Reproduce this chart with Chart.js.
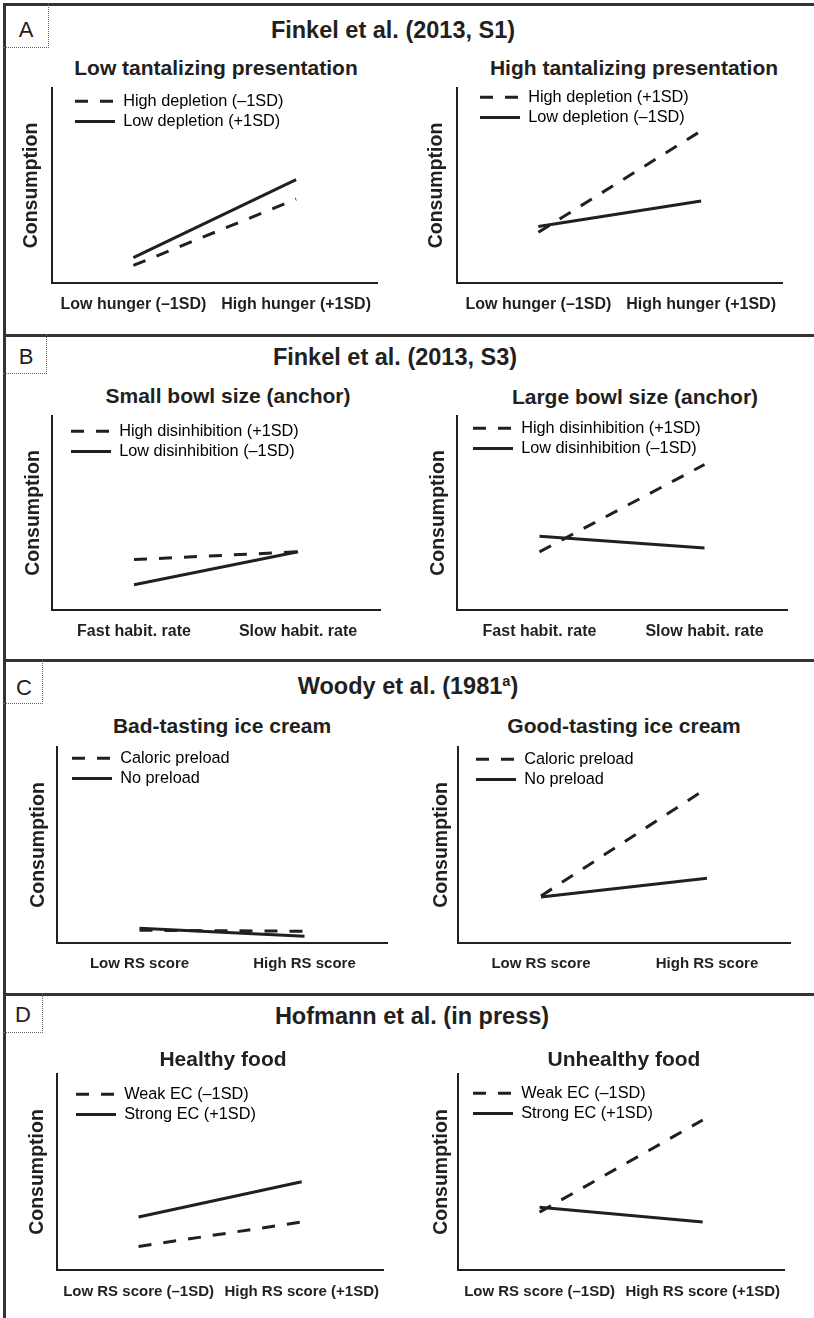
<!DOCTYPE html>
<html>
<head>
<meta charset="utf-8">
<script src="https://cdn.jsdelivr.net/npm/chart.js@4.4.1/dist/chart.umd.min.js"></script>
<style>
  body { margin: 0; background: #fff; }
  #fig { position: relative; width: 814px; height: 1318px; overflow: hidden;
         font-family: 'Liberation Sans', Arial, Helvetica, sans-serif; color: #231f20; }
  .rule { position: absolute; background: #333; }
  .tag { position: absolute; left: 3px; border-right: 1px dotted #666; border-bottom: 1px dotted #666; }
  .txt { position: absolute; transform: translate(-50%, -50%); white-space: nowrap; line-height: 1; }
  .panel { font-size: 23.5px; font-weight: bold; }
  .sub { font-size: 21px; font-weight: bold; }
  .letter { font-size: 22px; }
  .sup { font-size: 0.62em; position: relative; top: -0.55em; }
</style>
</head>
<body>
<div id="fig">
  <!-- frame -->
  <div class="rule" style="left:3px;top:3px;width:3px;height:1315px"></div>
  <div class="rule" style="left:3px;top:3px;width:811px;height:3px"></div>
  <div class="rule" style="left:3px;top:334px;width:811px;height:3px"></div>
  <div class="rule" style="left:3px;top:659px;width:811px;height:3px"></div>
  <div class="rule" style="left:3px;top:993px;width:811px;height:3px"></div>

  <div class="tag" style="top:3px;width:45px;height:44px"></div>
  <div class="tag" style="top:334px;width:43px;height:39px"></div>
  <div class="tag" style="top:659px;width:39px;height:44px"></div>
  <div class="tag" style="top:993px;width:39px;height:39px"></div>

  <div class="txt letter" style="left:26px;top:30px">A</div>
  <div class="txt letter" style="left:26px;top:357px">B</div>
  <div class="txt letter" style="left:24px;top:688px">C</div>
  <div class="txt letter" style="left:23px;top:1015px">D</div>

  <div class="txt panel" style="left:393px;top:31px">Finkel et al. (2013, S1)</div>
  <div class="txt panel" style="left:395px;top:358px">Finkel et al. (2013, S3)</div>
  <div class="txt panel" style="left:408px;top:687px">Woody et al. (1981<span class="sup">a</span>)</div>
  <div class="txt panel" style="left:412px;top:1017px">Hofmann et al. (in press)</div>
</div>

<script>
// categories
const hungerCats = ['Low hunger (–1SD)', 'High hunger (+1SD)'];
const habitCats = ['Fast habit. rate', 'Slow habit. rate'];
const rsCats = ['Low RS score', 'High RS score'];
const rsSdCats = ['Low RS score (–1SD)', 'High RS score (+1SD)'];

// legend names: [dashed, solid]
const depletionLow = ['High depletion (–1SD)', 'Low depletion (+1SD)'];
const depletionHigh = ['High depletion (+1SD)', 'Low depletion (–1SD)'];
const disinhibition = ['High disinhibition (+1SD)', 'Low disinhibition (–1SD)'];
const preload = ['Caloric preload', 'No preload'];
const ecNames = ['Weak EC (–1SD)', 'Strong EC (+1SD)'];

// consumption (no units on the original axis, read as 0-100 of axis height)
const lowTantDashed = [9, 43];
const lowTantSolid = [13, 53];
const highTantDashed = [26, 78];
const highTantSolid = [29, 42];
const smallBowlDashed = [26, 30];
const smallBowlSolid = [13, 30];
const largeBowlDashed = [30, 75];
const largeBowlSolid = [38, 32];
const badTasteDashed = [6.5, 6];
const badTasteSolid = [7.5, 3.5];
const goodTasteDashed = [24, 79];
const goodTasteSolid = [23.5, 33];
const healthyDashed = [12, 24.5];
const healthySolid = [27, 45];
const unhealthyDashed = [29.5, 76.5];
const unhealthySolid = [32, 24.5];

const ink = '#231f20';
Chart.defaults.font.family = "'Liberation Sans', Arial, Helvetica, sans-serif";
Chart.defaults.color = ink;

// box: axis left, right, top, bottom (page px)
const plots = [
  { cats: hungerCats, dashed: lowTantDashed, solid: lowTantSolid, names: depletionLow, title: 'Low tantalizing presentation',
    box: [52, 380, 88, 283], yLab: 31.5, leg: [75, 101], head: [216, 67], tick: 16, tickPad: 12 },
  { cats: hungerCats, dashed: highTantDashed, solid: highTantSolid, names: depletionHigh, title: 'High tantalizing presentation',
    box: [457, 785, 88, 283], yLab: 436.5, leg: [480, 97], head: [634, 67], tick: 16, tickPad: 12 },
  { cats: habitCats, dashed: smallBowlDashed, solid: smallBowlSolid, names: disinhibition, title: 'Small bowl size (anchor)',
    box: [52, 380, 416, 610], yLab: 33.5, leg: [71, 431], head: [228, 395], tick: 16, tickPad: 12 },
  { cats: habitCats, dashed: largeBowlDashed, solid: largeBowlSolid, names: disinhibition, title: 'Large bowl size (anchor)',
    box: [457, 787, 416, 610], yLab: 438.5, leg: [473, 428], head: [635, 396], tick: 16, tickPad: 12 },
  { cats: rsCats, dashed: badTasteDashed, solid: badTasteSolid, names: preload, title: 'Bad-tasting ice cream',
    box: [57, 387, 747, 943], yLab: 38.5, leg: [72, 758], head: [222, 725], tick: 15, tickPad: 12 },
  { cats: rsCats, dashed: goodTasteDashed, solid: goodTasteSolid, names: preload, title: 'Good-tasting ice cream',
    box: [458, 790, 747, 943], yLab: 441.5, leg: [476, 759], head: [624, 725], tick: 15, tickPad: 12 },
  { cats: rsSdCats, dashed: healthyDashed, solid: healthySolid, names: ecNames, title: 'Healthy food',
    box: [57, 389, 1074, 1270], yLab: 37.5, leg: [76, 1094], head: [223, 1058], tick: 15, tickPad: 13 },
  { cats: rsSdCats, dashed: unhealthyDashed, solid: unhealthySolid, names: ecNames, title: 'Unhealthy food',
    box: [458, 790, 1074, 1270], yLab: 441.5, leg: [473, 1093], head: [624, 1058], tick: 15, tickPad: 13 }
];

// put the legend inside the plot at a fixed spot
const legendSpot = {
  id: 'legendSpot',
  afterLayout(chart, args, opts) {
    const lg = chart.legend;
    if (!lg) return;
    lg.left = opts.x - 4;
    lg.top = opts.y - 12;
    lg.right = chart.width;
    lg.bottom = chart.height;
  }
};

const yAxisW = 36;
const fig = document.getElementById('fig');

plots.forEach(p => {
  const [l, r, t, b] = p.box;
  const cl = l - yAxisW, ct = t - 6;

  const cv = document.createElement('canvas');
  cv.width = r + 4 - cl;
  cv.height = b - t + 46;
  cv.style.cssText = `position:absolute;left:${cl}px;top:${ct}px;`;
  fig.appendChild(cv);

  const head = document.createElement('div');
  head.className = 'txt sub';
  head.style.left = p.head[0] + 'px';
  head.style.top = p.head[1] + 'px';
  head.textContent = p.title;
  fig.appendChild(head);

  new Chart(cv, {
    type: 'line',
    data: {
      labels: p.cats,
      datasets: [
        { label: p.names[0], data: p.dashed, borderColor: ink, borderWidth: 3, borderDash: [13, 12], pointRadius: 0, tension: 0 },
        { label: p.names[1], data: p.solid, borderColor: ink, borderWidth: 3, pointRadius: 0, tension: 0 }
      ]
    },
    options: {
      responsive: false,
      animation: false,
      events: [],
      devicePixelRatio: 1,
      layout: { padding: { top: 6, right: 4, left: 0, bottom: 0 } },
      plugins: {
        tooltip: { enabled: false },
        legendSpot: { x: p.leg[0] - cl, y: p.leg[1] - ct },
        legend: {
          position: 'chartArea',
          align: 'start',
          labels: {
            usePointStyle: true,
            pointStyleWidth: 40,
            padding: 4,
            color: ink,
            font: { size: 16.3 },
            generateLabels: chart => chart.data.datasets.map((ds, i) => ({
              text: ds.label,
              datasetIndex: i,
              pointStyle: 'line',
              strokeStyle: ink,
              fillStyle: ink,
              lineWidth: 3,
              lineDash: ds.borderDash || [],
              lineCap: 'butt'
            }))
          }
        }
      },
      scales: {
        x: {
          offset: true,
          grid: { display: false, drawTicks: false },
          border: { display: true, width: 2, color: ink },
          ticks: { color: ink, font: { size: p.tick, weight: 'bold' }, padding: p.tickPad, maxRotation: 0, autoSkip: false },
          afterFit: s => { s.height = 40; }
        },
        y: {
          min: 0,
          max: 100,
          grid: { display: false, drawTicks: false },
          border: { display: true, width: 2, color: ink },
          ticks: { display: false },
          title: {
            display: true,
            text: 'Consumption',
            color: ink,
            font: { size: 19.5, weight: 'bold' },
            padding: { top: p.yLab - cl - 11.7, bottom: 0 }
          },
          afterFit: s => { s.width = yAxisW; }
        }
      }
    },
    plugins: [legendSpot]
  });
});
</script>
</body>
</html>
